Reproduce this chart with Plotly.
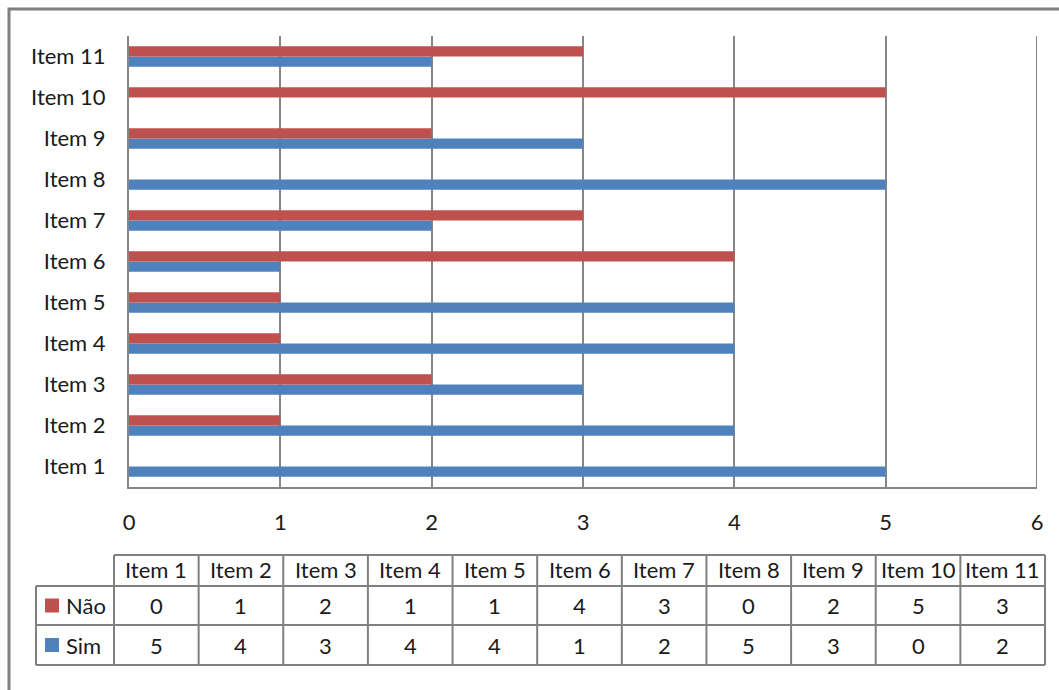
import plotly.graph_objects as go

categories = ["Item 1", "Item 2", "Item 3", "Item 4", "Item 5", "Item 6",
              "Item 7", "Item 8", "Item 9", "Item 10", "Item 11"]
nao = [0, 1, 2, 1, 1, 4, 3, 0, 2, 5, 3]
sim = [5, 4, 3, 4, 4, 1, 2, 5, 3, 0, 2]
x_ticks = [0, 1, 2, 3, 4, 5, 6]

RED = "#C0504D"
BLUE = "#4F81BD"
GRID = "#868686"
FONT = "Lato"
FS = 22

W, H = 1059, 690
L, R, T, B = 129, 1037, 36, 487

def xp(px):
    return (px - L) / (R - L)

def yp(py):
    return (B - py) / (B - T)

fig = go.Figure()
fig.add_trace(go.Bar(y=categories, x=sim, orientation="h", name="Sim",
                     marker=dict(color=BLUE, line=dict(width=0))))
fig.add_trace(go.Bar(y=categories, x=nao, orientation="h", name="Não",
                     marker=dict(color=RED, line=dict(width=0))))

shapes = []
annotations = []

# outer chart border
shapes.append(dict(type="rect", xref="paper", yref="paper",
                   x0=xp(9), x1=xp(1070), y0=yp(9), y1=yp(700),
                   line=dict(color="#7F7F7F", width=3), layer="below"))

# right-edge gridline at the axis maximum
shapes.append(dict(type="line", xref="x", yref="paper", x0=x_ticks[-1], x1=x_ticks[-1],
                   y0=0, y1=1, line=dict(color=GRID, width=2)))

# data table
col_left = 114
col_right = 1045
ncol = len(categories)
cw = (col_right - col_left) / ncol
lab_left = 36
r_head_top, r_head_bot, r_mid, r_bot = 555, 586, 625, 665
lc = "#808080"
lw = 2

shapes.append(dict(type="line", xref="paper", yref="paper", x0=xp(col_left), x1=xp(col_right),
                   y0=yp(r_head_top), y1=yp(r_head_top), line=dict(color=lc, width=lw)))
for yy in (r_head_bot, r_mid, r_bot):
    shapes.append(dict(type="line", xref="paper", yref="paper", x0=xp(lab_left), x1=xp(col_right),
                       y0=yp(yy), y1=yp(yy), line=dict(color=lc, width=lw)))
shapes.append(dict(type="line", xref="paper", yref="paper", x0=xp(lab_left), x1=xp(lab_left),
                   y0=yp(r_head_bot), y1=yp(r_bot), line=dict(color=lc, width=lw)))
for i in range(ncol + 1):
    xx = col_left + i * cw
    shapes.append(dict(type="line", xref="paper", yref="paper", x0=xp(xx), x1=xp(xx),
                       y0=yp(r_head_top), y1=yp(r_bot), line=dict(color=lc, width=lw)))

tfont = dict(family=FONT, size=FS, color="#1a1a1a")
for i, cat in enumerate(categories):
    cx = col_left + (i + 0.5) * cw
    annotations.append(dict(xref="paper", yref="paper", x=xp(cx), y=yp((r_head_top + r_head_bot) / 2 - 1),
                            text=cat, showarrow=False, font=tfont, xanchor="center", yanchor="middle"))
    annotations.append(dict(xref="paper", yref="paper", x=xp(cx), y=yp((r_head_bot + r_mid) / 2),
                            text=str(nao[i]), showarrow=False, font=tfont, xanchor="center", yanchor="middle"))
    annotations.append(dict(xref="paper", yref="paper", x=xp(cx), y=yp((r_mid + r_bot) / 2),
                            text=str(sim[i]), showarrow=False, font=tfont, xanchor="center", yanchor="middle"))

for name, color, (ya, yb) in (("Não", RED, (r_head_bot, r_mid)), ("Sim", BLUE, (r_mid, r_bot))):
    yc = (ya + yb) / 2
    shapes.append(dict(type="rect", xref="paper", yref="paper", x0=xp(45), x1=xp(59),
                       y0=yp(yc - 7), y1=yp(yc + 7), fillcolor=color, line=dict(width=0)))
    annotations.append(dict(xref="paper", yref="paper", x=xp(64), y=yp(yc), text=name,
                            showarrow=False, font=tfont, xanchor="left", yanchor="middle"))

fig.update_layout(
    width=W, height=H,
    margin=dict(l=L, r=W - R, t=T, b=H - B),
    paper_bgcolor="white", plot_bgcolor="white",
    barmode="group", bargap=0.5, bargroupgap=0,
    showlegend=False,
    font=dict(family=FONT, size=FS, color="#1a1a1a"),
    shapes=shapes, annotations=annotations,
    xaxis=dict(range=[0, 6], tickvals=x_ticks, showgrid=True, gridcolor=GRID, gridwidth=2,
               showline=True, linecolor=GRID, linewidth=2, zeroline=False,
               ticks="", ticklabelstandoff=15, tickfont=dict(size=FS)),
    yaxis=dict(categoryorder="array", categoryarray=categories, showgrid=False,
               showline=True, linecolor=GRID, linewidth=2, ticks="",
               ticklabelstandoff=17, tickfont=dict(size=FS)),
)

fig.write_html("out.html")
